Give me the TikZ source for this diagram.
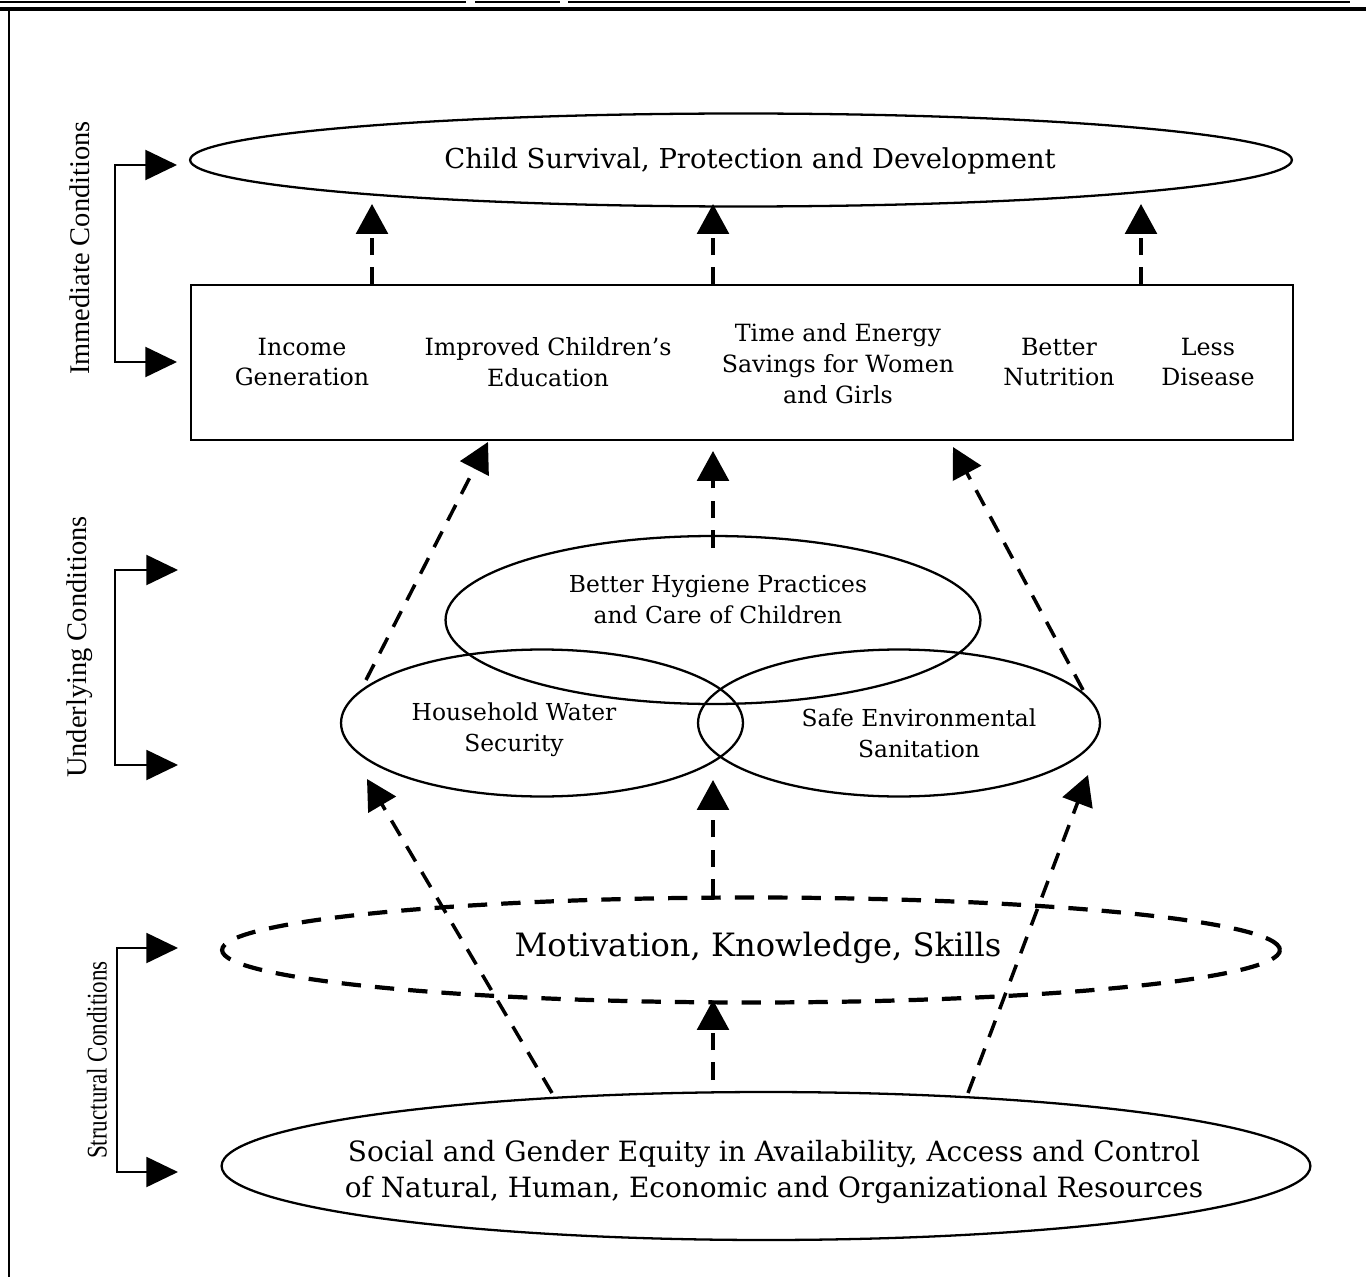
\documentclass[tikz,border=0pt]{standalone}
\usepackage{fontspec}
\setmainfont{DejaVu Serif}
\newfontfamily\sidefont{Liberation Serif}
\usetikzlibrary{shapes.geometric,arrows.meta}
\tikzset{
  ell/.style={ellipse, draw, line width=1.3pt, inner sep=0pt},
  txt/.style={align=center, inner sep=0pt},
  boxtxt/.style={txt, font=\fontsize{13.5}{17.6}\selectfont},
  midtxt/.style={txt, font=\fontsize{13.3}{17.6}\selectfont},
  dasharrow/.style={line width=2pt, dash pattern=on 10pt off 7pt, -{Triangle[length=17pt,width=18pt]}},
  brk/.style={line width=1.4pt, {Triangle[length=18pt,width=17pt]}-{Triangle[length=18pt,width=17pt]}},
  side/.style={rotate=90, inner sep=0pt, font=\sidefont\fontsize{16.2}{18}\selectfont}
}
\begin{document}
\begin{tikzpicture}[x=0.02cm,y=-0.02cm]
\useasboundingbox (0,0) rectangle (1366,1277);
% page rules
\draw[line width=1.2pt] (0,2) -- (466,2);
\draw[line width=1.2pt] (475,2) -- (560,2);
\draw[line width=1.2pt] (568,2) -- (1350,2);
\draw[line width=1.8pt] (0,9) -- (1366,9);
\draw[line width=1.3pt] (9,9) -- (9,1277);

% top ellipse
\node[ell, minimum width=22.04cm, minimum height=1.86cm] (top) at (741,160) {};
\node[txt, font=\fontsize{15.6}{18}\selectfont] (toptxt) at (750,161) {Child Survival, Protection and Development};

% box
\node[draw, line width=1.3pt, minimum width=22.04cm, minimum height=3.1cm, inner sep=0pt] (box) at (742,362.5) {};
\node[boxtxt] (inc) at (302,362) {Income\\Generation};
\node[boxtxt] (edu) at (548,362) {Improved Children's\\Education};
\node[boxtxt] (time) at (838,364) {Time and Energy\\Savings for Women\\and Girls};
\node[boxtxt] (nut) at (1059,362) {Better\\Nutrition};
\node[boxtxt] (dis) at (1208,362) {Less\\Disease};

% middle ellipses
\node[ell, minimum width=10.7cm, minimum height=3.36cm] (hyg) at (713,620) {};
\node[ell, minimum width=8.04cm, minimum height=2.94cm] (wat) at (542,723) {};
\node[ell, minimum width=8.04cm, minimum height=2.94cm] (san) at (899,723) {};
\node[midtxt] (hygt) at (718,600) {Better Hygiene Practices\\and Care of Children};
\node[midtxt] (watt) at (514,730) {Household Water\\Security};
\node[midtxt] (sant) at (919,733) {Safe Environmental\\Sanitation};

% motivation ellipse
\node[ellipse, draw, line width=2.4pt, dash pattern=on 11pt off 8pt, minimum width=21.16cm, minimum height=2.1cm, inner sep=0pt] (mot) at (751,950) {};
\node[txt, font=\fontsize{18.3}{21}\selectfont] (mott) at (758,948) {Motivation, Knowledge, Skills};

% bottom ellipse
\node[ell, minimum width=21.78cm, minimum height=2.96cm] (soc) at (766,1166) {};
\node[txt, font=\fontsize{15.9}{21}\selectfont] (soct) at (774,1172) {Social and Gender Equity in Availability, Access and Control\\of Natural, Human, Economic and Organizational Resources};

% arrow end points
\coordinate (b1) at (372,285); \coordinate (t1) at (372,204);
\coordinate (b2) at (713,285); \coordinate (t2) at (713,204);
\coordinate (b3) at (1141,285); \coordinate (t3) at (1141,204);
\coordinate (m1) at (366,680); \coordinate (u1) at (488,442);
\coordinate (m2) at (713,548); \coordinate (u2) at (713,451);
\coordinate (m3) at (1083,690); \coordinate (u3) at (953,447);
\coordinate (l1) at (552,1093); \coordinate (w1) at (367,779);
\coordinate (l2) at (713,897); \coordinate (w2) at (713,780);
\coordinate (l3) at (968,1093); \coordinate (w3) at (1088,775);
\coordinate (s4) at (713,1080); \coordinate (k4) at (713,1000);

\draw[dasharrow] (b1) -- (t1);
\draw[dasharrow] (b2) -- (t2);
\draw[dasharrow] (b3) -- (t3);
\draw[dasharrow] (m1) -- (u1);
\draw[dasharrow] (m2) -- (u2);
\draw[dasharrow] (m3) -- (u3);
\draw[dasharrow] (l1) -- (w1);
\draw[dasharrow] (l2) -- (w2);
\draw[dasharrow] (l3) -- (w3);
\draw[dasharrow] (s4) -- (k4);

% side brackets
\coordinate (i1) at (177,165); \coordinate (i2) at (177,362);
\coordinate (n1) at (178,570); \coordinate (n2) at (178,765);
\coordinate (r1) at (178,948); \coordinate (r2) at (178,1172);
\draw[brk] (i1) -- ++(-62,0) |- (i2);
\draw[brk] (n1) -- ++(-63,0) |- (n2);
\draw[brk] (r1) -- ++(-61,0) |- (r2);
\node[side] (limm) at (80,248) {Immediate Conditions};
\node[side] (lund) at (80,647) {Underlying Conditions};
\node[side] (lstr) at (97,1060) {\scalebox{0.81}[1]{Structural Conditions}};
\end{tikzpicture}
\end{document}
